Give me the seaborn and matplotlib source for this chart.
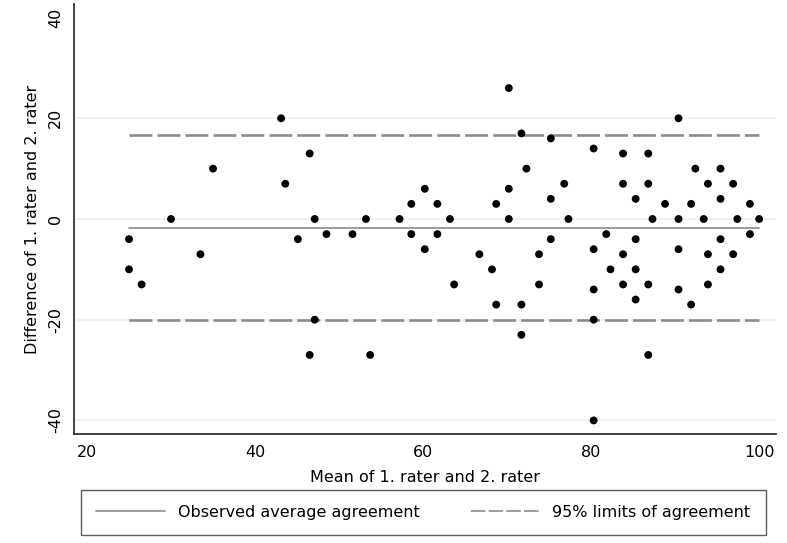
import matplotlib
matplotlib.use("Agg")
import matplotlib.pyplot as plt
import seaborn as sns
import pandas as pd

# =========================================================
# Data
# =========================================================
mean_vals = [
    43.1, 46.5, 35.0, 43.6, 30.0, 47.1, 25.0, 45.1, 48.5, 33.5, 25.0, 26.5, 47.1, 46.5,
    51.6, 53.2, 53.7, 57.2, 58.6, 58.6, 60.2, 60.2, 61.7, 61.7, 63.2, 63.7, 66.7, 68.2,
    68.7, 68.7, 70.2, 70.2, 70.2, 71.7, 71.7, 71.7, 72.3, 73.8, 73.8,
    75.2, 76.8, 75.2, 77.3, 75.2, 80.3, 80.3, 80.3, 80.3, 80.3, 81.8, 82.3,
    83.8, 83.8, 83.8, 83.8, 85.3, 85.3, 85.3, 85.3, 86.8, 86.8, 86.8, 86.8, 87.3,
    88.8, 90.4, 90.4, 90.4, 90.4, 91.9, 91.9, 92.4, 93.4, 93.9, 93.9, 93.9,
    95.4, 95.4, 95.4, 95.4, 96.9, 96.9, 97.4, 98.9, 98.9, 100.0,
]
diff_vals = [
    20, 13, 10, 7, 0, 0, -4, -4, -3, -7, -10, -13, -20, -27,
    -3, 0, -27, 0, 3, -3, 6, -6, 3, -3, 0, -13, -7, -10,
    3, -17, 26, 6, 0, 17, -17, -23, 10, -7, -13,
    16, 7, 4, 0, -4, 14, -6, -14, -20, -40, -3, -10,
    13, 7, -7, -13, 4, -4, -10, -16, 13, 7, -13, -27, 0,
    3, 20, 0, -6, -14, 3, -17, 10, 0, 7, -7, -13,
    10, 4, -4, -10, 7, -7, 0, 3, -3, 0,
]

line_x = [25, 100]
mean_diff = -1.7
upper_loa = 16.6
lower_loa = -20.0

y_ticks = [-40, -20, 0, 20, 40]
x_ticks = [20, 40, 60, 80, 100]

df = pd.DataFrame({"mean": mean_vals, "diff": diff_vals})

# =========================================================
# Plot
# =========================================================
sns.set_style("white")
plt.rcParams["font.family"] = ["DejaVu Sans"]
plt.rcParams["axes.unicode_minus"] = False
plt.rcParams["text.color"] = "black"
plt.rcParams["axes.labelcolor"] = "black"
plt.rcParams["xtick.color"] = "black"
plt.rcParams["ytick.color"] = "black"

fig = plt.figure(figsize=(7.87, 5.43), dpi=100)
ax = fig.add_axes([0.094, 0.2007, 0.892, 0.792])

line_col = "#8c8c8c"
sns.lineplot(x=line_x, y=[mean_diff] * 2, ax=ax, color=line_col, lw=1.2,
             label="Observed average agreement")
sns.lineplot(x=line_x, y=[upper_loa] * 2, ax=ax, color=line_col, lw=1.9,
             linestyle=(0, (8.7, 1.9)), label="95% limits of agreement")
sns.lineplot(x=line_x, y=[lower_loa] * 2, ax=ax, color=line_col, lw=1.9,
             linestyle=(0, (8.7, 1.9)))

sns.scatterplot(data=df, x="mean", y="diff", ax=ax, color="black",
                s=32, edgecolor="none", zorder=3)

ax.set_xlim(18.45, 102.0)
ax.set_ylim(-42.7, 42.7)
ax.set_xticks(x_ticks)
ax.set_yticks(y_ticks)

# horizontal grid (Stata style, no line at the top tick)
ax.grid(axis="y", color="#eaf0f0", lw=1.2)
ax.grid(axis="x", visible=False)
ax.yaxis.get_gridlines()[-1].set_visible(False)
ax.set_axisbelow(True)

for side in ["top", "right"]:
    ax.spines[side].set_visible(False)
for side in ["left", "bottom"]:
    ax.spines[side].set_color("#333333")
    ax.spines[side].set_linewidth(1.3)

ax.tick_params(axis="both", direction="out", length=5, width=1,
               color="#333333", labelsize=11.5, pad=3)
for lab in ax.get_yticklabels():
    lab.set_rotation(90)
    lab.set_va("center")

ax.set_xlabel("Mean of 1. rater and 2. rater", fontsize=11.5, labelpad=7)
ax.set_ylabel("Difference of 1. rater and 2. rater", fontsize=11.5, labelpad=6)

handles, labels = ax.get_legend_handles_labels()
ax.get_legend().remove()
leg = fig.legend(handles, labels, loc="lower left", ncol=2, mode="expand",
                 bbox_to_anchor=(0.103, 0.0147, 0.870, 0.077),
                 fontsize=11.5, frameon=True, fancybox=False,
                 handlelength=4.3, borderaxespad=0, borderpad=0.95,
                 columnspacing=2)
leg.get_frame().set_edgecolor("#333333")
leg.get_frame().set_linewidth(1)
for h in leg.get_lines():
    h.set_linewidth(1.2)

plt.savefig("out.png", dpi=100)
plt.close()
